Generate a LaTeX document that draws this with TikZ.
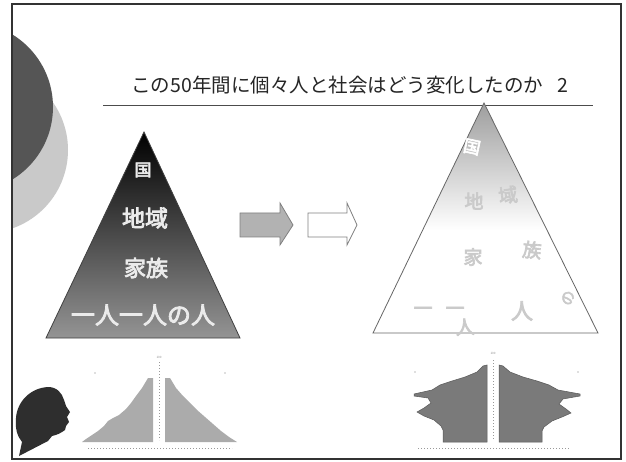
\documentclass[tikz,border=0pt]{standalone}
\usepackage{fontspec}
\setmainfont{Noto Sans CJK JP}
\newfontfamily\jp{Noto Sans CJK JP}
\newfontfamily\jpbold[FakeBold=3.5]{Noto Sans CJK JP}
\definecolor{frameline}{HTML}{333333}
\definecolor{discdark}{HTML}{555555}
\definecolor{disclight}{HTML}{C9C9C9}
\definecolor{barlight}{HTML}{ABABAB}
\definecolor{bardark}{HTML}{7A7A7A}
\definecolor{ghost}{HTML}{CACACA}
\tikzset{
  titletext/.style={font=\jp\fontsize{19.5}{22}\selectfont, text=black!85, inner sep=0pt},
  tierlabel/.style={font=\jpbold\fontsize{23}{26}\selectfont, text=white!92!black, inner sep=0pt},
  brokenlabel/.style={font=\jpbold\fontsize{19}{22}\selectfont, text=ghost, inner sep=0pt},
  blockarrow/.style={draw=black!50, line width=0.8pt, line join=miter},
  tinymark/.style={font=\jp\fontsize{3}{3}\selectfont, text=black!45, inner sep=0pt},
  axisdots/.style={draw=black!40, line width=0.6pt, dash pattern=on 0.8pt off 2.2pt},
}
\begin{document}
\begin{tikzpicture}[x=1pt,y=-1pt]
\useasboundingbox (0,0) rectangle (626,462);
\fill[white] (0,0) rectangle (626,462);

% decorative discs on the left edge, cut by the frame
\begin{scope}
  \clip (12,4) rectangle (621,459);
  \fill[disclight] (-15,150) circle (83);
  \fill[discdark] (-32,107) circle (85);
\end{scope}

% title and rule
\node[titletext] (title) at (350,85) {この50年間に個々人と社会はどう変化したのか\hspace{0.75em}2};
\draw[black!70, line width=0.9pt] (103,105) coordinate (ruleL) -- (593,105) coordinate (ruleR);

% former society: solid pyramid of tiers
\shade[top color=black, bottom color=black!42, draw=black!75, line width=0.8pt]
  (46,338) coordinate (lpL) -- (144,132) coordinate (lpT) -- (240,338) coordinate (lpR) -- cycle;
\node[tierlabel, font=\jpbold\fontsize{17}{20}\selectfont] (kuni) at (143,170) {国};
\node[tierlabel] (chiiki) at (145,218) {地域};
\node[tierlabel, font=\jpbold\fontsize{22}{25}\selectfont] (kazoku) at (146,268) {家族};
\node[tierlabel, font=\jpbold\fontsize{24}{27}\selectfont] (hitori) at (143,315) {一人一人の人};

% arrows
\filldraw[blockarrow, fill=black!30]
  (240,213) -- (280,213) -- (280,203) -- (293,225) -- (280,245) -- (280,237) -- (240,237) -- cycle;
\filldraw[blockarrow, fill=white]
  (308,213) -- (347,213) -- (347,203) -- (357,225) -- (347,245) -- (347,237) -- (308,237) -- cycle;

% present society: faded pyramid with tiers breaking apart
\fill[white] (373,333) -- (484,103) -- (598,333) -- cycle;
\begin{scope}
  \clip (373,333) -- (484,103) -- (598,333) -- cycle;
  \shade[top color=black!38, bottom color=white] (370,103) rectangle (600,230);
\end{scope}
\draw[black!60, line width=0.8pt, line join=miter]
  (373,333) coordinate (rpL) -- (484,103) coordinate (rpT) -- (598,333) coordinate (rpR) -- cycle;
\node[brokenlabel, rotate=-12, text=white, font=\jpbold\fontsize{17}{20}\selectfont] (kuni2) at (472,147) {国};
\node[brokenlabel] (chi2) at (474,201) {地};
\node[brokenlabel, rotate=8] (iki2) at (508,195) {域};
\node[brokenlabel] (ka2) at (473,257) {家};
\node[brokenlabel, rotate=-6] (zoku2) at (532,250) {族};
\node[brokenlabel] (ichi2) at (423,311) {一};
\node[brokenlabel] (ichi3) at (455,311) {一};
\node[brokenlabel, rotate=4] (hito2) at (465,327) {人};
\node[brokenlabel, font=\jpbold\fontsize{22}{25}\selectfont] (hito3) at (522,311) {人};
\node[brokenlabel, rotate=80, font=\jpbold\fontsize{15}{18}\selectfont] (no2) at (568,298) {の};

% head silhouette
\fill[black!82] (19,456) -- (22,442)
  .. controls (17,436) and (15,428) .. (16,418)
  .. controls (17,402) and (30,388) .. (48,387)
  .. controls (57,387) and (62,393) .. (64,400)
  -- (66,406) -- (70,412) -- (67,417) -- (69,422) -- (66,426) -- (65,430)
  .. controls (61,433) and (57,435) .. (52,436)
  -- (48,441) -- cycle;

% population pyramid, 1950s
\fill[barlight] (153,378) -- (148,378) -- (142,388) -- (136,396) -- (131,403) -- (126,409) -- (119,415)
  -- (113,418) -- (108,421) -- (104,426) -- (98,431) -- (92,435) -- (86,439) -- (82,442) -- (153,442) -- cycle;
\fill[barlight] (165,378) -- (170,378) -- (176,388) -- (183,396) -- (190,403) -- (197,410) -- (205,417)
  -- (213,424) -- (221,431) -- (229,437) -- (237,442) -- (165,442) -- cycle;
\draw[axisdots] (159,362) -- (159,440);
\node[tinymark] (age1) at (159,357) {100};
\draw[axisdots] (88,448) -- (232,448);
\fill[black!25] (95,373) circle (0.8) (225,373) circle (0.8);

% population pyramid, 2000s
\filldraw[fill=bardark, draw=black!65, line width=0.5pt]
  (487,365) -- (483,366) -- (477,372) -- (465,377) -- (452,381) -- (440,385) -- (432,390)
  -- (414,394) -- (414,396) -- (428,398) -- (431,403) -- (424,408) -- (417,412) -- (424,416)
  -- (434,420) -- (441,426) -- (443,430) -- (443,442) -- (487,442) -- cycle;
\filldraw[fill=bardark, draw=black!65, line width=0.5pt]
  (499,365) -- (503,366) -- (510,372) -- (523,377) -- (537,381) -- (549,385) -- (558,390)
  -- (580,394) -- (580,396) -- (563,399) -- (559,404) -- (566,409) -- (571,413) -- (562,417)
  -- (552,421) -- (544,427) -- (542,431) -- (542,442) -- (499,442) -- cycle;
\draw[axisdots] (493,360) -- (493,440);
\node[tinymark] (age2) at (493,353) {100};
\draw[axisdots] (418,448) -- (570,448);
\fill[black!25] (415,372) circle (0.8) (578,372) circle (0.8);

% frame
\draw[frameline, line width=1.6pt] (12,4) rectangle (621,459);
\end{tikzpicture}
\end{document}
